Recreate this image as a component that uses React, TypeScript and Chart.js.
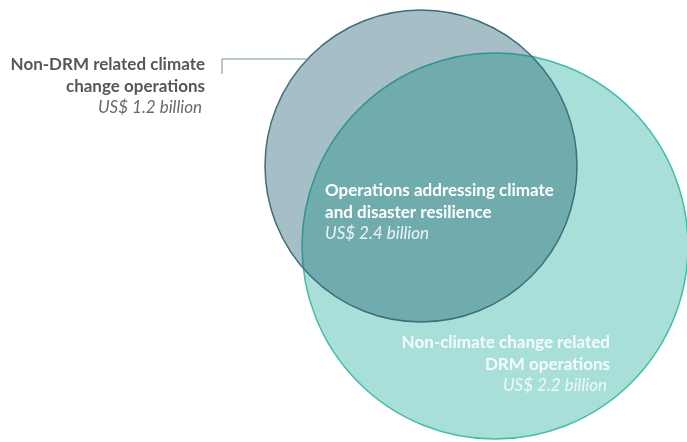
import React, { useEffect, useRef } from "react";
import { Chart, registerables } from "chart.js";

Chart.register(...registerables);

// Venn sets (circles)
const circleNames = ["Climate change operations", "DRM operations"];
const circleX = [421, 495];
const circleY = [166, 246];
const circleR = [156, 193];
const circleFill = ["rgba(22, 84, 106, 0.38)", "#a8e0d9"];
const circleBorder = ["#3f6e7b", "#43bca9"];

// Region labels
const regionTitles = [
  ["Non-DRM related climate", "change operations"],
  ["Operations addressing climate", "and disaster resilience"],
  ["Non-climate change related", "DRM operations"],
];
const regionAmounts = [1.2, 2.4, 2.2];
const labelX = [205, 325, 610];
const labelY = [65, 191, 343];
const labelAlign = ["right", "left", "right"];
const titleColor = ["#575757", "#ffffff", "rgba(255,255,255,0.88)"];
const amountColor = ["#6a6a6a", "rgba(255,255,255,0.88)", "rgba(255,255,255,0.82)"];

// Leader line for the outside label
const leaderX = [222, 222, 310];
const leaderY = [74, 59, 59];

const W = 687;
const H = 442;

export default function App() {
  const ref = useRef<HTMLCanvasElement | null>(null);

  useEffect(() => {
    document.body.style.margin = "0";
    const canvas = ref.current;
    if (!canvas) return;

    const labelPlugin = {
      id: "vennLabels",
      afterDatasetsDraw(chart: any) {
        const ctx = chart.ctx;
        const xs = chart.scales.x;
        const ys = chart.scales.y;
        ctx.save();
        // leader line
        ctx.strokeStyle = "#6a95a0";
        ctx.lineWidth = 1;
        ctx.beginPath();
        leaderX.forEach((lx, i) => {
          const px = xs.getPixelForValue(lx);
          const py = ys.getPixelForValue(leaderY[i]);
          if (i === 0) ctx.moveTo(px, py);
          else ctx.lineTo(px, py);
        });
        ctx.stroke();

        const fam = "Lato, 'Open Sans', sans-serif";
        const lh = 21.5;
        regionTitles.forEach((lines, i) => {
          const x = xs.getPixelForValue(labelX[i]);
          const y0 = ys.getPixelForValue(labelY[i]);
          ctx.textAlign = labelAlign[i];
          ctx.textBaseline = "middle";
          ctx.font = `bold 17px ${fam}`;
          ctx.fillStyle = titleColor[i];
          lines.forEach((t, j) => ctx.fillText(t, x, y0 + j * lh));
          ctx.font = `italic 17px ${fam}`;
          ctx.fillStyle = amountColor[i];
          ctx.fillText(
            `US$ ${regionAmounts[i].toFixed(1)} billion`,
            labelAlign[i] === "right" ? x - 3 : x,
            y0 + lines.length * lh
          );
        });
        ctx.restore();
      },
    };

    const chart = new Chart(canvas, {
      type: "bubble",
      data: {
        datasets: circleNames.map((name, i) => ({
          label: name,
          data: [{ x: circleX[i], y: circleY[i], r: circleR[i] }],
          backgroundColor: circleFill[i],
          borderColor: circleBorder[i],
          borderWidth: 1.5,
          order: i,
          clip: false,
        })),
      },
      options: {
        animation: false,
        responsive: false,
        events: [],
        layout: { padding: 0, autoPadding: false },
        plugins: {
          legend: { display: false },
          tooltip: { enabled: false },
        },
        scales: {
          x: { type: "linear", min: 0, max: W, display: false },
          y: { type: "linear", min: 0, max: H, reverse: true, display: false },
        },
        elements: { point: { hoverRadius: 0 } },
      },
      plugins: [labelPlugin],
    } as any);

    return () => chart.destroy();
  }, []);

  return (
    <div style={{ width: W, height: H, background: "#ffffff" }}>
      <canvas ref={ref} width={W} height={H} style={{ display: "block" }} />
    </div>
  );
}
